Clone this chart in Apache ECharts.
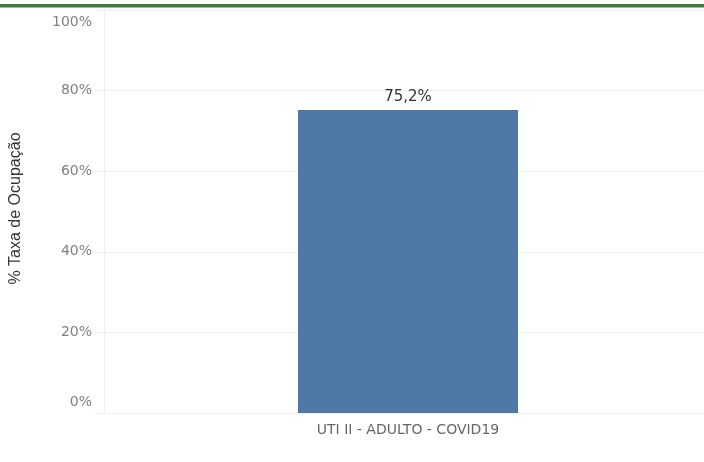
<!DOCTYPE html>
<html>
<head>
<meta charset="utf-8">
<script src="https://cdn.jsdelivr.net/npm/echarts@6/dist/echarts.min.js"></script>
<style>
  html, body { margin: 0; padding: 0; background: #fff; }
  #chart { width: 704px; height: 462px; }
</style>
</head>
<body>
<div id="chart"></div>
<script>
// dados
const categorias = ['UTI II - ADULTO - COVID19']
const ocupacao = [75.2]
const ticksY = [0, 20, 40, 60, 80, 100]

const chart = echarts.init(document.getElementById('chart'))

chart.setOption({
  animation: false,
  // linha verde no topo
  graphic: [{
    type: 'rect',
    shape: { x: 0, y: 4, width: 704, height: 3.5 },
    style: { fill: '#3b7a3b' }
  }],
  grid: { left: 104, top: 10, width: 608, height: 403, outerBoundsMode: 'none' },
  xAxis: {
    type: 'category',
    data: categorias,
    axisLine: { show: true, lineStyle: { color: '#f0f0f0' } },
    axisTick: { show: false },
    axisLabel: {
      color: '#666',
      fontFamily: 'DejaVu Sans',
      fontSize: 14,
      margin: 10
    }
  },
  yAxis: {
    type: 'value',
    min: ticksY[0],
    max: ticksY[ticksY.length - 1],
    interval: 20,
    name: '% Taxa de Ocupação',
    nameLocation: 'middle',
    nameRotate: 90,
    nameGap: 80,
    nameTextStyle: {
      color: '#333',
      fontFamily: 'Liberation Sans',
      fontSize: 16,
      padding: [0, 0, 0, 6]
    },
    axisLine: { show: true, lineStyle: { color: '#f0f0f0' } },
    axisTick: { show: true, length: 9, lineStyle: { color: '#f0f0f0' } },
    splitLine: { show: true, lineStyle: { color: '#f0f0f0' } },
    axisLabel: {
      color: '#808080',
      fontFamily: 'DejaVu Sans',
      fontSize: 14,
      margin: 12,
      formatter: function (v) {
        // rótulos das pontas ficam dentro da área
        if (v === 100) return '{topo|' + v + '%}'
        if (v === 0) return '{base|' + v + '%}'
        return v + '%'
      },
      rich: {
        topo: {
          color: '#808080',
          fontFamily: 'DejaVu Sans',
          fontSize: 14,
          padding: [24, 0, 0, 0]
        },
        base: {
          color: '#808080',
          fontFamily: 'DejaVu Sans',
          fontSize: 14,
          padding: [0, 0, 22, 0]
        }
      }
    }
  },
  series: [{
    type: 'bar',
    data: ocupacao,
    barWidth: 220,
    itemStyle: { color: '#4e79a7' },
    label: {
      show: true,
      position: 'top',
      distance: 5,
      color: '#333',
      fontFamily: 'DejaVu Sans',
      fontSize: 15,
      formatter: function (p) {
        return p.value.toFixed(1).replace('.', ',') + '%'
      }
    }
  }]
})
</script>
</body>
</html>
